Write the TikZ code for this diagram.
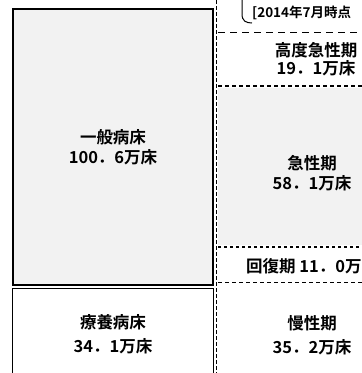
\documentclass[tikz,border=0pt]{standalone}
\usepackage{fontspec}
\newfontfamily\jpfont{Noto Sans CJK JP}[BoldFont={Noto Sans CJK JP Bold}]
\usetikzlibrary{positioning, calc}

\begin{document}
\begin{tikzpicture}[x=1pt, y=-1pt, node distance=20pt, every node/.style={font=\jpfont\bfseries\fontsize{16.5}{19}\selectfont}]
%
% Skiss:
%  | 一般病床 (thick box)  :  高度急性期
%  |                       :  - - - - - -
%  |                       :  急性期
%  |                       :  - - - - - -
%  |-----------------------:  回復期
%  | 療養病床              :  慢性期
%
\tikzstyle{bedtext} = [text centered, inner sep=1pt]
\tikzstyle{shaded} = [fill=black!5]
\tikzstyle{bedbox} = [draw=black, line width=2pt, fill=black!5]
\tikzstyle{lowbox} = [draw=black, line width=0.8pt]
\tikzstyle{divider} = [draw=black, line width=0.8pt, dash pattern=on 4pt off 2pt]
\tikzstyle{stage} = [draw=black, line width=1.3pt, dash pattern=on 4pt off 3pt]
\tikzstyle{datetext} = [anchor=west, inner sep=0pt, font=\jpfont\bfseries\fontsize{13.5}{15}\selectfont]

\useasboundingbox (0,0) rectangle (362,373);

% Boxes
\fill [shaded] (218,88) rectangle (362,245);
\draw [bedbox] (13,9) rectangle (213,285);
\draw [lowbox] (12,373) -- (12,288) -- (213,288) -- (213,373);
\draw [divider] (216,0) -- (216,373);
\draw [draw=black, line width=0.8pt, dash pattern=on 7pt off 5pt] (218,32) -- (362,32);
\draw [stage] (218,86) -- (362,86);
\draw [stage, line width=1.6pt, dash pattern=on 3pt off 3pt] (218,247) -- (362,247);
\draw [stage, line width=1pt] (218,282) -- (362,282);
\draw [line width=1pt] (242,0) -- (242,14) .. controls (242,21) and (246,23) .. (252,23);

% Nodes
\node (date) [datetext] at (252,13) {[2014年7月時点};
\node (ippan) [bedtext] at (113,137) {一般病床};
\node (ippanVal) [bedtext, below of=ippan] {100．6万床};
\node (ryoyo) [bedtext] at (113,322) {療養病床};
\node (ryoyoVal) [bedtext, below of=ryoyo, yshift=-4pt] {34．1万床};
\node (kodo) [bedtext] at (316,50) {高度急性期};
\node (kodoVal) [bedtext, below of=kodo, yshift=2pt] {19．1万床};
\node (kyusei) [bedtext] at (312,163) {急性期};
\node (kyuseiVal) [bedtext, below of=kyusei] {58．1万床};
\node (kaifuku) [anchor=west, inner sep=0pt] at (246,266) {回復期 11．0万};
\node (mansei) [bedtext] at (312,323) {慢性期};
\node (manseiVal) [bedtext, below of=mansei, yshift=-4pt] {35．2万床};

\end{tikzpicture}
\end{document}
